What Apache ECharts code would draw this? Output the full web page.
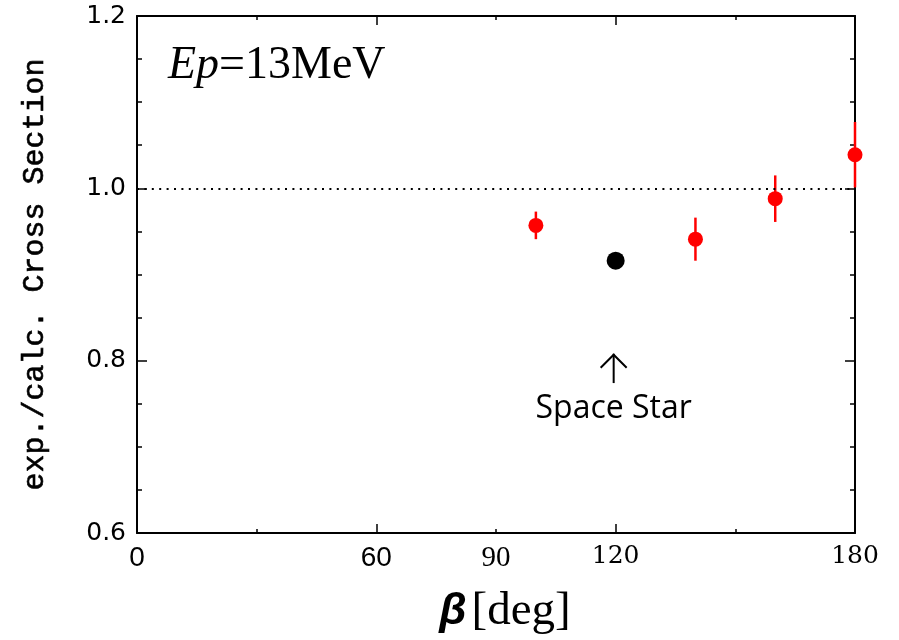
<!DOCTYPE html>
<html>
<head>
<meta charset="utf-8">
<script src="https://cdn.jsdelivr.net/npm/echarts@6/dist/echarts.min.js"></script>
<style>html,body{margin:0;padding:0;background:#fff;}#c{width:899px;height:640px;}</style>
</head>
<body>
<div id="c"></div>
<script>
// ---- data ----
const betaRed = [100, 140, 160, 180];
const ratioRed = [0.957, 0.941, 0.988, 1.039];
const errRed = [0.016, 0.025, 0.027, 0.038];
const betaStar = [120];
const ratioStar = [0.916];
const errStar = [0.008];
const xTickLabels = [0, 60, 90, 120, 180];
const yTickLabels = [0.6, 0.8, 1.0, 1.2];
const refLine = 1.0;

const chart = echarts.init(document.getElementById('c'), null, {renderer: 'canvas'});

const redPts = betaRed.map((b, i) => [b, ratioRed[i]]);
const redErr = betaRed.map((b, i) => [b, ratioRed[i] - errRed[i], ratioRed[i] + errRed[i]]);
const starPts = betaStar.map((b, i) => [b, ratioStar[i]]);
const starErr = betaStar.map((b, i) => [b, ratioStar[i] - errStar[i], ratioStar[i] + errStar[i]]);

function errRender(color) {
  return function (params, api) {
    const p1 = api.coord([api.value(0), api.value(1)]);
    const p2 = api.coord([api.value(0), api.value(2)]);
    return {type: 'line', shape: {x1: p1[0], y1: p1[1], x2: p2[0], y2: p2[1]},
      style: {stroke: color, lineWidth: 2.5}};
  };
}

const axCol = '#000';
function xAx(pos, interval, len, showLine, showLabel) {
  return {
    type: 'value', min: 0, max: 180, interval: interval, position: pos,
    splitLine: {show: false},
    axisLine: {show: showLine, onZero: false, lineStyle: {color: axCol, width: 2}},
    axisTick: {show: true, inside: true, length: len, lineStyle: {color: axCol, width: 1.5}},
    axisLabel: showLabel ? {
      show: true, margin: 11,
      formatter: v => {
        if (!xTickLabels.includes(v)) return '';
        if (v === 0 || v === 60) return '{s|' + v + '}';
        if (v === 90) return '{t|' + v + '}';
        return '{d|' + v + '}';
      },
      rich: {
        s: {fontFamily: 'Liberation Sans', fontSize: 28, color: '#000'},
        t: {fontFamily: 'Liberation Serif', fontSize: 29, color: '#000'},
        d: {fontFamily: 'DejaVu Serif', fontSize: 25, color: '#000'}
      }
    } : {show: false}
  };
}
function yAx(pos, interval, len, showLine, showLabel) {
  return {
    type: 'value', min: 0.6, max: 1.2, interval: interval, position: pos,
    splitLine: {show: false},
    axisLine: {show: showLine, onZero: false, lineStyle: {color: axCol, width: 2}},
    axisTick: {show: true, inside: true, length: len, lineStyle: {color: axCol, width: 1.5}},
    axisLabel: showLabel ? {
      show: true, margin: 11, color: '#000',
      fontFamily: 'DejaVu Sans', fontSize: 25,
      formatter: v => yTickLabels.some(t => Math.abs(t - v) < 1e-6) ? v.toFixed(1) : ''
    } : {show: false},
    name: showLabel ? 'exp./calc. Cross Section' : '',
    nameLocation: 'middle', nameRotate: 90, nameGap: 87,
    nameTextStyle: {fontFamily: 'Liberation Mono', fontWeight: 'normal', fontSize: 30, color: '#000',
                    textBorderColor: '#000', textBorderWidth: 0.6}
  };
}

const xs = [xAx('bottom', 30, 4, true, true), xAx('bottom', 60, 9, false, false),
            xAx('top', 30, 4, true, false), xAx('top', 60, 9, false, false)];
xs[0].name = '{b|\u03B2}{sp| }{u|[deg]}';
xs[0].nameLocation = 'middle';
xs[0].nameGap = 55;
xs[0].nameTextStyle = {
  padding: [0, 0, 0, 18],
  rich: {
    b: {fontFamily: 'Liberation Sans', fontStyle: 'italic', fontWeight: 'bold', fontSize: 44, color: '#000'},
    sp: {fontFamily: 'Liberation Serif', fontSize: 20, color: '#000'},
    u: {fontFamily: 'Liberation Serif', fontSize: 47, color: '#000'}
  }
};
const ys = [yAx('left', 0.05, 5, true, true), yAx('left', 0.2, 10, false, false),
            yAx('right', 0.05, 5, true, false), yAx('right', 0.2, 10, false, false)];

chart.setOption({
  animation: false,
  backgroundColor: '#fff',
  grid: {left: 137, right: 44, top: 16, bottom: 107, containLabel: false},
  title: {
    text: '{i|Ep}{r|=13MeV}', left: 163, top: 38,
    textStyle: {rich: {
      i: {fontFamily: 'Liberation Serif', fontStyle: 'italic', fontWeight: 'normal', fontSize: 46, color: '#000'},
      r: {fontFamily: 'Liberation Serif', fontWeight: 'normal', fontSize: 46, color: '#000'}
    }}
  },
  xAxis: xs,
  yAxis: ys,
  series: [
    {type: 'custom', name: 'errRed', data: redErr, renderItem: errRender('#ff0000'),
     encode: {x: 0, y: [1, 2]}, clip: false, z: 3},
    {type: 'custom', name: 'errStar', data: starErr, renderItem: errRender('#000'),
     encode: {x: 0, y: [1, 2]}, clip: false, z: 3},
    {type: 'scatter', name: 'exp', data: redPts, symbol: 'circle', symbolSize: 15,
     itemStyle: {color: '#ff0000', opacity: 1}, clip: false, z: 4,
     markLine: {silent: true, symbol: 'none', label: {show: false},
       lineStyle: {color: '#000', width: 1.8, type: [2, 5.4], opacity: 1},
       data: [{yAxis: refLine}]}},
    {type: 'scatter', name: 'star', data: starPts, symbol: 'circle', symbolSize: 18,
     itemStyle: {color: '#000', opacity: 1}, clip: false, z: 4}
  ]
});

// annotation for the Space Star point
const a0 = chart.convertToPixel({xAxisIndex: 0, yAxisIndex: 0}, [betaStar[0], 0.808]);
const a1 = chart.convertToPixel({xAxisIndex: 0, yAxisIndex: 0}, [betaStar[0], 0.774]);
const ax = a0[0] - 2;
chart.setOption({
  graphic: [
    {type: 'line', shape: {x1: ax, y1: a0[1], x2: ax, y2: a1[1]}, style: {stroke: '#000', lineWidth: 2}},
    {type: 'polyline', shape: {points: [[ax - 13, a0[1] + 14], [ax, a0[1] + 1], [ax + 13, a0[1] + 14]]},
     style: {stroke: '#000', lineWidth: 2, fill: null}},
    {type: 'text', x: ax, y: a1[1] + 10,
     style: {text: 'Space Star', fontFamily: 'Open Sans', fontSize: 32, fill: '#000',
             textAlign: 'center', textVerticalAlign: 'top'}}
  ]
});
</script>
</body>
</html>
